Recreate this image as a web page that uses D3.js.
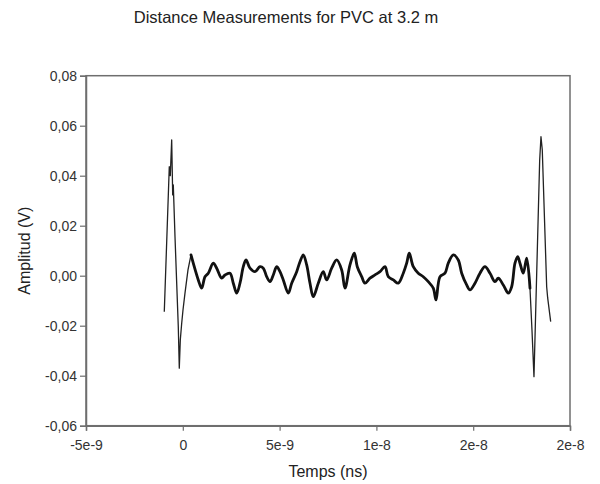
<!DOCTYPE html>
<html>
<head>
<meta charset="utf-8">
<script src="https://cdn.jsdelivr.net/npm/d3@7"></script>
<style>
  body { margin: 0; background: #fff; }
  svg { font-family: Arial, "Liberation Sans", sans-serif; }
</style>
</head>
<body>
<svg id="chart" width="600" height="484"></svg>
<script>
// time in ns, amplitude in V
const timeNs = [
  -0.956, -0.698, -0.646, -0.574, -0.522, -0.491, -0.403, -0.233, -0.181, -0.129,
  -0.057, 0.010, 0.113, 0.268, 0.423, 0.800, 0.976, 1.146, 1.317, 1.575,
  1.751, 2.009, 2.179, 2.438, 2.608, 2.784, 2.954, 3.125, 3.264, 3.471,
  3.729, 3.987, 4.158, 4.333, 4.504, 4.674, 4.850, 5.020, 5.191, 5.449,
  5.624, 5.883, 6.053, 6.224, 6.399, 6.570, 6.740, 6.998, 7.256, 7.432,
  7.690, 7.949, 8.207, 8.377, 8.636, 8.858, 9.012, 9.240, 9.410, 9.669,
  9.927, 10.185, 10.443, 10.614, 10.872, 11.130, 11.389, 11.564, 11.698, 11.905,
  12.163, 12.421, 12.680, 12.938, 13.078, 13.284, 13.542, 13.713, 13.971, 14.229,
  14.405, 14.663, 14.834, 15.092, 15.350, 15.608, 15.867, 16.125, 16.295, 16.554,
  16.812, 16.987, 17.158, 17.297, 17.416, 17.587, 17.762, 17.933, 18.036, 18.139,
  18.434, 18.501, 18.568, 18.795, 18.847, 19.002
];
const amplitude = [
  -0.0144, 0.0436, 0.0400, 0.0543, 0.0323, 0.0363, 0.0156, -0.0204, -0.0370, -0.0257,
  -0.0190, -0.0137, -0.0070, 0.0023, 0.0083, -0.0017, -0.0050, -0.0004, 0.0010, 0.0050,
  0.0030, -0.0010, 0.0003, 0.0010, -0.0030, -0.0070, -0.0030, 0.0036, 0.0063, 0.0030,
  0.0016, 0.0036, 0.0030, -0.0004, -0.0024, 0.0003, 0.0036, 0.0016, -0.0017, -0.0070,
  -0.0030, 0.0016, 0.0056, 0.0083, 0.0043, -0.0030, -0.0084, -0.0030, 0.0016, -0.0017,
  0.0030, 0.0063, 0.0023, -0.0050, 0.0043, 0.0090, 0.0036, -0.0004, -0.0030, -0.0010,
  0.0003, 0.0016, 0.0036, -0.0004, -0.0017, -0.0030, 0.0010, 0.0050, 0.0090, 0.0036,
  0.0010, -0.0004, -0.0024, -0.0050, -0.0097, -0.0004, 0.0010, 0.0050, 0.0083, 0.0063,
  0.0010, -0.0037, -0.0057, -0.0030, 0.0010, 0.0036, 0.0010, -0.0024, -0.0010, -0.0037,
  -0.0070, -0.0044, 0.0050, 0.0076, 0.0050, 0.0010, 0.0070, -0.0050, -0.0217, -0.0404,
  0.0463, 0.0556, 0.0503, -0.0044, -0.0089, -0.0184
];

const xTicks = [-5e-9, 0, 5e-9, 1e-8, 1.5e-8, 2e-8];
const xTickLabels = ["-5e-9", "0", "5e-9", "1e-8", "2e-8", "2e-8"];
const yTicks = [-0.06, -0.04, -0.02, 0, 0.02, 0.04, 0.06, 0.08];

const svg = d3.select("#chart");
const margin = { left: 86, right: 30, top: 75.7, bottom: 58.3 };
const W = 600, H = 484;

const x = d3.scaleLinear().domain([-5e-9, 2e-8]).range([margin.left, W - margin.right]);
const y = d3.scaleLinear().domain([-0.06, 0.08]).range([H - margin.bottom, margin.top]);

const locale = d3.formatLocale({ decimal: ",", thousands: ".", grouping: [3], currency: ["", ""], minus: "-" });
const fmtY = locale.format(".2f");

const data = timeNs.map((t, i) => ({ t: t * 1e-9, v: amplitude[i] }));

// frame
svg.append("rect")
  .attr("x", x.range()[0]).attr("y", y.range()[1])
  .attr("width", x.range()[1] - x.range()[0])
  .attr("height", y.range()[0] - y.range()[1])
  .attr("fill", "none").attr("stroke", "#6e6e6e").attr("stroke-width", 1.5);

// axes
const xAxis = svg.append("g")
  .attr("transform", `translate(0,${y.range()[0]})`)
  .call(d3.axisBottom(x).tickValues(xTicks).tickSize(5).tickPadding(9)
    .tickFormat((d, i) => xTickLabels[i]));
const yAxis = svg.append("g")
  .attr("transform", `translate(${x.range()[0]},0)`)
  .call(d3.axisLeft(y).tickValues(yTicks).tickSize(6).tickPadding(3).tickFormat(fmtY));

[xAxis, yAxis].forEach(a => {
  a.select(".domain").attr("stroke", "#6e6e6e").attr("stroke-width", 1.5);
  a.selectAll(".tick line").attr("stroke", "#6e6e6e").attr("stroke-width", 1.2);
  a.selectAll(".tick text").attr("fill", "#333").style("font-size", "14px")
    .style("font-family", "Arial, 'Liberation Sans', sans-serif");
});

// trace: spikes thin, noisy middle section thicker
const loIdx = timeNs.indexOf(0.423), hiIdx = timeNs.indexOf(17.933);
const line = d3.line().x(d => x(d.t)).y(d => y(d.v));
const smooth = d3.line().x(d => x(d.t)).y(d => y(d.v)).curve(d3.curveCatmullRom.alpha(0.5));
const parts = [data.slice(0, loIdx + 1), data.slice(hiIdx)];
svg.selectAll(".spike").data(parts).join("path").attr("class", "spike")
  .attr("d", line).attr("fill", "none").attr("stroke", "#222").attr("stroke-width", 1.3)
  .attr("stroke-linejoin", "round");
svg.append("path").datum(data.slice(loIdx, hiIdx + 1))
  .attr("d", smooth).attr("fill", "none").attr("stroke", "#111").attr("stroke-width", 2.8)
  .attr("stroke-linejoin", "round").attr("stroke-linecap", "round");

// titles
svg.append("text").attr("x", 286).attr("y", 23).attr("text-anchor", "middle")
  .style("font-size", "16.5px").attr("fill", "#222")
  .text("Distance Measurements for PVC at 3.2 m");
svg.append("text").attr("x", (x.range()[0] + x.range()[1]) / 2).attr("y", 477)
  .attr("text-anchor", "middle").style("font-size", "16px").attr("fill", "#222")
  .text("Temps (ns)");
svg.append("text")
  .attr("transform", `translate(30,${(y.range()[0] + y.range()[1]) / 2}) rotate(-90)`)
  .attr("text-anchor", "middle").style("font-size", "16px").attr("fill", "#222")
  .text("Amplitud (V)");
</script>
</body>
</html>
